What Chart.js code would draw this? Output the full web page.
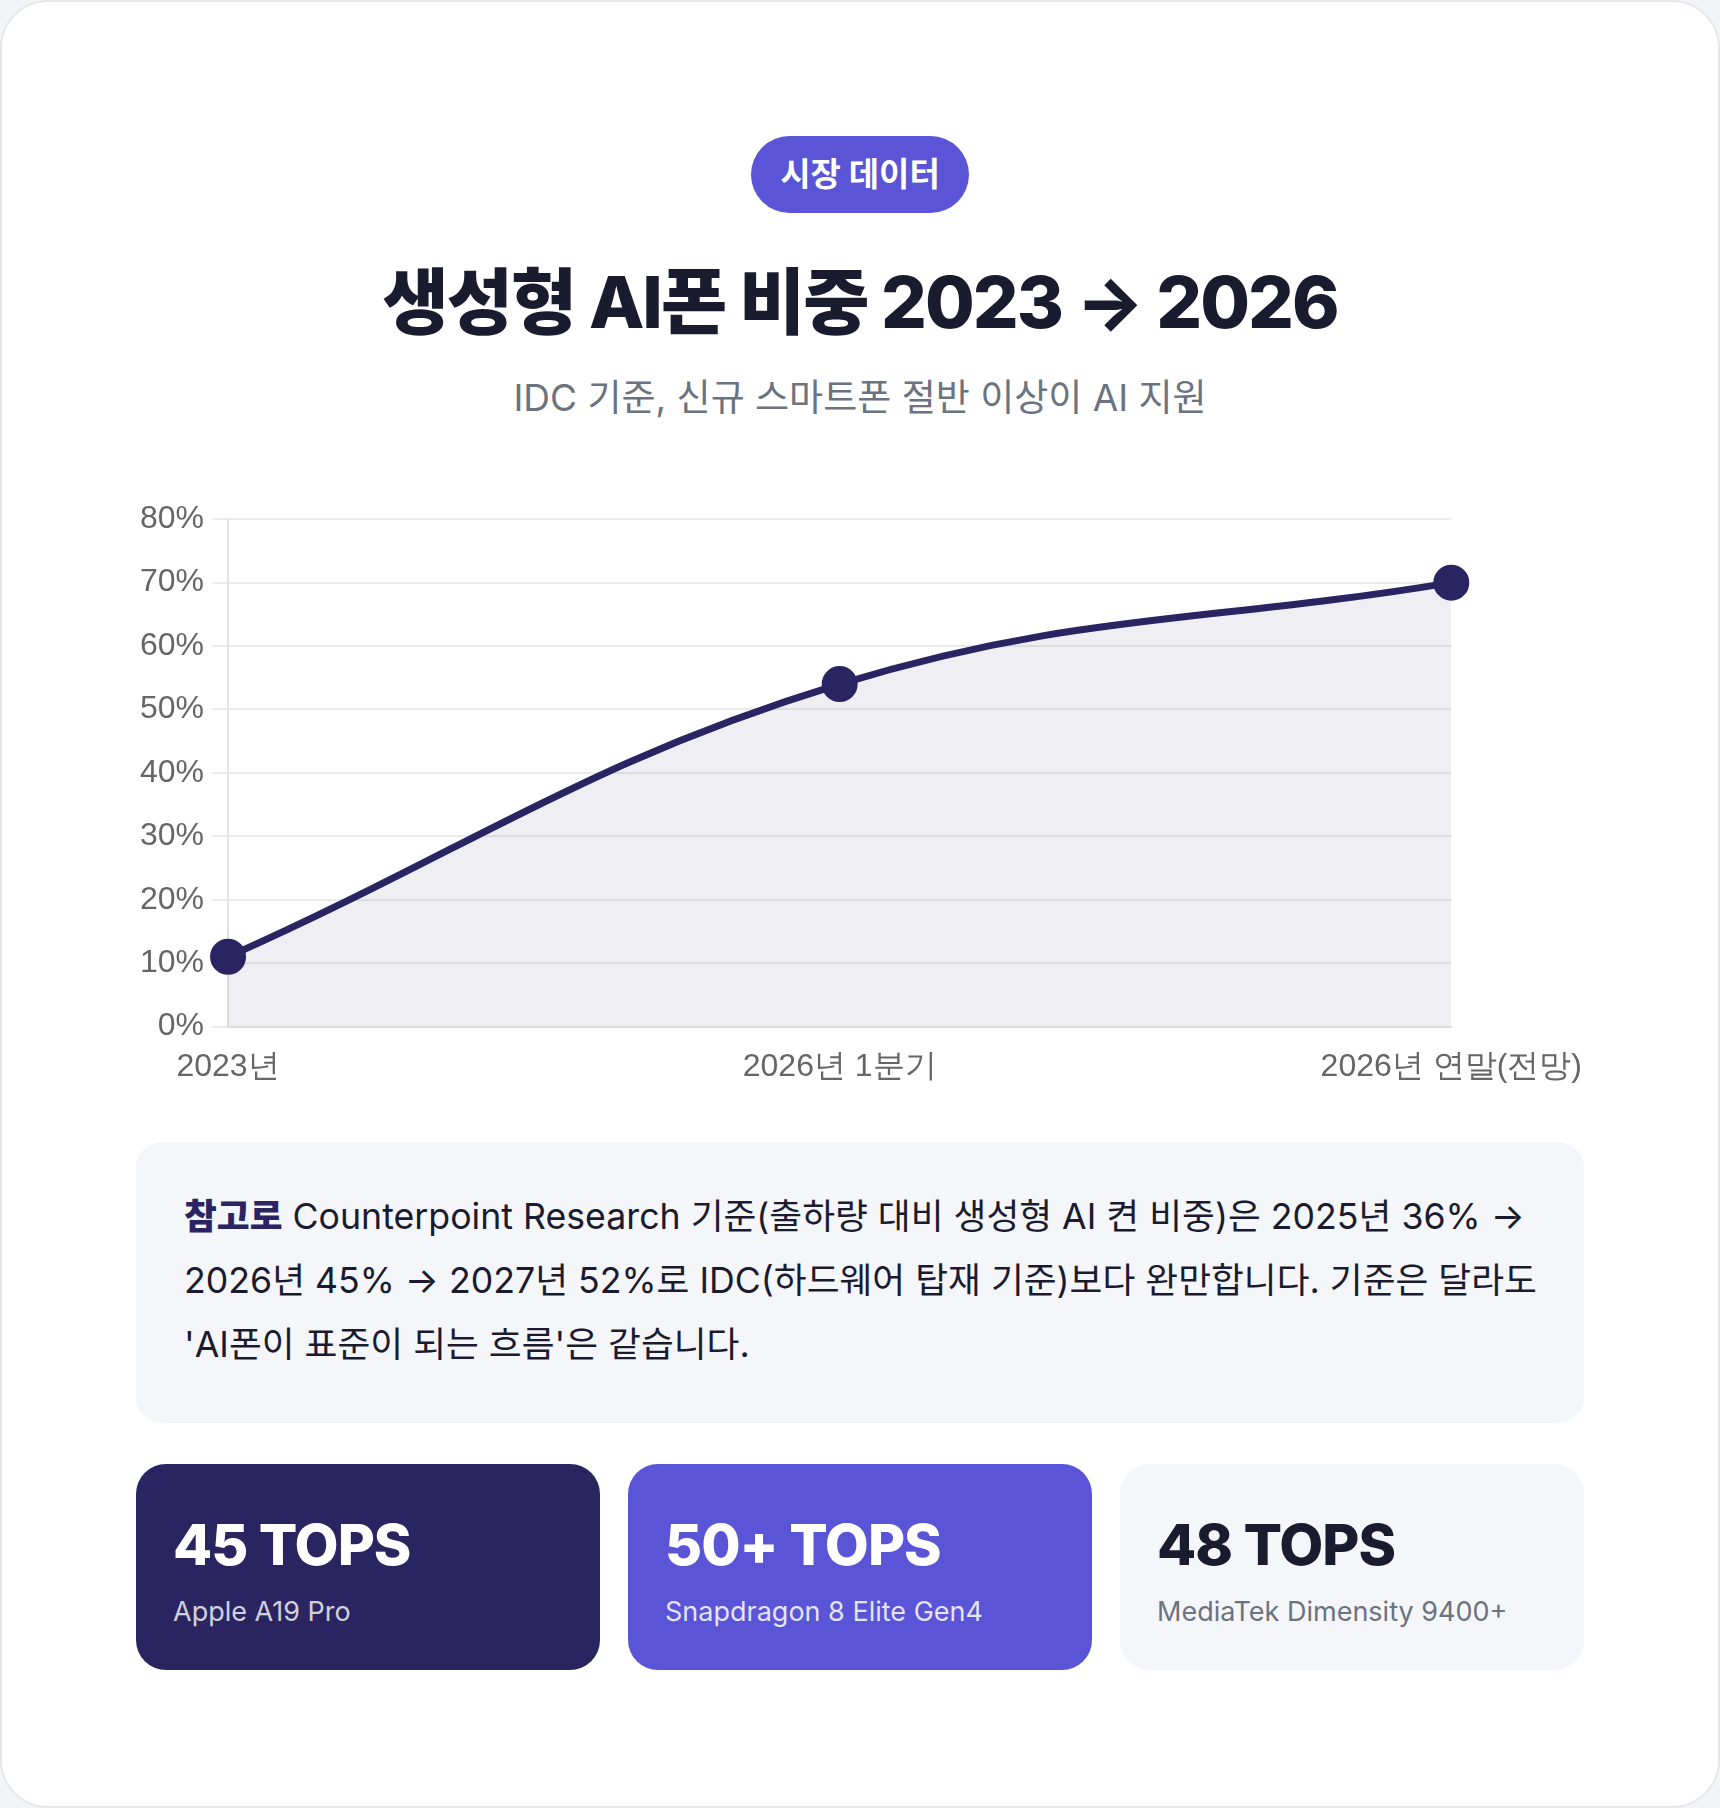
<!DOCTYPE html>
<html lang="ko">
  <head>
    <meta http-equiv="content-type" content="text/html; charset=UTF-8">
    <title>생성형 AI폰 비중</title>
    <style>
      html, body {
        margin: 0;
        padding: 0;
        background: #f3f4f6;
      }
      body {
        font-family: "Inter", "Noto Sans CJK KR", sans-serif;
        color: #1b1b2f;
      }
      .card {
        box-sizing: border-box;
        width: 1720px;
        height: 1808px;
        background: #ffffff;
        border: 2px solid #e5e7eb;
        border-radius: 48px;
        padding: 134px 134px 0 134px;
        text-align: center;
      }
      .badge {
        display: inline-block;
        height: 77px;
        line-height: 77px;
        padding: 0 29px;
        border-radius: 40px;
        background: #5955d6;
        color: #ffffff;
        font-size: 33px;
        font-weight: 700;
      }
      h1 {
        margin: 46px 0 0 0;
        font-size: 72px;
        line-height: 86px;
        font-weight: 800;
        letter-spacing: -2px;
      }
      .subtitle {
        margin: 29px 0 0 0;
        font-size: 37px;
        line-height: 48px;
        color: #6b7280;
      }
      .chart-box {
        position: relative;
        height: 607px;
        margin: 70px -11px 0 -4px;
      }
      .note {
        box-sizing: border-box;
        margin-top: 43px;
        height: 281px;
        padding: 42px 36px 42px 48px;
        background: #f5f6fa;
        border-radius: 26px;
        text-align: left;
        font-size: 35.7px;
        line-height: 64px;
        word-break: keep-all;
      }
      .note b {
        color: #2a2462;
        font-weight: 800;
      }
      .stats {
        display: flex;
        gap: 28px;
        margin-top: 41px;
      }
      .stat {
        flex: 1;
        box-sizing: border-box;
        height: 206px;
        border-radius: 30px;
        padding: 48px 37px 0 37px;
        text-align: left;
      }
      .stat .big {
        font-size: 57px;
        line-height: 66px;
        font-weight: 800;
        letter-spacing: -1px;
      }
      .stat .small {
        margin-top: 17px;
        font-size: 27px;
        line-height: 34px;
      }
      .stat.dark { background: #2a2460; color: #ffffff; }
      .stat.dark .small { color: rgba(255, 255, 255, 0.8); }
      .stat.violet { background: #5955d6; color: #ffffff; }
      .stat.violet .small { color: rgba(255, 255, 255, 0.85); }
      .stat.light { background: #f5f6fa; color: #1b1b2f; }
      .stat.light .small { color: #6b7280; }
    </style>
  </head>
  <body>
    <div class="card">
      <span class="badge">시장 데이터</span>
      <h1>생성형 AI폰 비중 2023 → 2026</h1>
      <p class="subtitle">IDC 기준, 신규 스마트폰 절반 이상이 AI 지원</p>
      <div class="chart-box">
        <canvas id="chart"></canvas>
      </div>
      <div class="note">
        <b>참고로</b> Counterpoint Research 기준(출하량 대비 생성형 AI 켠 비중)은 2025년 36% → 2026년 45% → 2027년 52%로 IDC(하드웨어 탑재 기준)보다 완만합니다. 기준은 달라도 'AI폰이 표준이 되는 흐름'은 같습니다.
      </div>
      <div class="stats">
        <div class="stat dark">
          <div class="big">45 TOPS</div>
          <div class="small">Apple A19 Pro</div>
        </div>
        <div class="stat violet">
          <div class="big">50+ TOPS</div>
          <div class="small">Snapdragon 8 Elite Gen4</div>
        </div>
        <div class="stat light">
          <div class="big">48 TOPS</div>
          <div class="small">MediaTek Dimensity 9400+</div>
        </div>
      </div>
    </div>

    <script src="https://cdn.jsdelivr.net/npm/chart.js"></script>
    <script>
      // chart data
      const periods = ['2023년', '2026년 1분기', '2026년 연말(전망)'];
      const aiShare = [11, 54, 70]; // % of new smartphones
      const yMin = 0;
      const yMax = 80;
      const yStep = 10;

      const navy = '#2a2462';

      const ctx = document.getElementById('chart');
      new Chart(ctx, {
        type: 'line',
        data: {
          labels: periods,
          datasets: [{
            label: '생성형 AI폰 비중',
            data: aiShare,
            borderColor: navy,
            borderWidth: 7,
            backgroundColor: 'rgba(42, 36, 98, 0.08)',
            fill: 'origin',
            tension: 0.4,
            pointRadius: 17,
            pointBorderWidth: 2,
            pointBackgroundColor: navy,
            pointBorderColor: navy,
            clip: false
          }]
        },
        options: {
          responsive: true,
          maintainAspectRatio: false,
          animation: false,
          plugins: {
            legend: { display: false },
            tooltip: { enabled: false }
          },
          scales: {
            x: {
              grid: { display: false },
              border: { display: true, color: '#dddddd', width: 2 },
              ticks: {
                color: '#666666',
                padding: 13,
                font: { size: 32 }
              }
            },
            y: {
              min: yMin,
              max: yMax,
              grid: { color: '#ebebeb', lineWidth: 2, tickLength: 16 },
              border: { display: true, color: '#e3e3e3', width: 2 },
              ticks: {
                stepSize: yStep,
                color: '#666666',
                padding: 8,
                font: { size: 32 },
                callback: v => v + '%'
              }
            }
          }
        }
      });
    </script>
  </body>
</html>
